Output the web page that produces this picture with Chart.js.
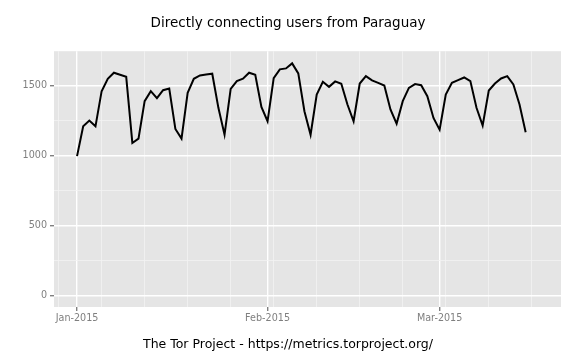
<!DOCTYPE html>
<html>
<head>
<meta charset="utf-8">
<script src="https://cdn.jsdelivr.net/npm/chart.js@4.4.1/dist/chart.umd.min.js"></script>
<style>
  html, body { margin: 0; padding: 0; background: #ffffff; }
  canvas { display: block; }
</style>
</head>
<body>
<canvas id="usersChart" width="576" height="360"></canvas>
<script>
// --- DATA ---
const startDate = '2015-01-01';
// daily directly connecting users, 2015-01-01 .. 2015-03-15
const users = [
    995, 1208, 1249, 1208, 1459, 1548, 1591, 1577, 1562, 1089, 1120, 1388, 1459, 1409, 1466, 1478,
    1189, 1120, 1447, 1548, 1572, 1579, 1584, 1340, 1148, 1476, 1531, 1548, 1591, 1577, 1346, 1244,
    1553, 1615, 1622, 1658, 1586, 1316, 1148, 1435, 1526, 1490, 1529, 1512, 1364, 1244, 1514,
    1567, 1536, 1519, 1500, 1328, 1227, 1388, 1483, 1510, 1502, 1423, 1268, 1184,
    1435, 1519, 1538, 1557, 1531, 1340, 1213, 1464, 1514, 1550, 1567, 1507, 1364, 1165
];
const monthTicks = ['2015-01-01', '2015-02-01', '2015-03-01'];
const monthLabels = ['Jan-2015', 'Feb-2015', 'Mar-2015'];
const weekTicks = ['2014-12-29', '2015-01-05', '2015-01-12', '2015-01-19', '2015-01-26', '2015-02-02',
    '2015-02-09', '2015-02-16', '2015-02-23', '2015-03-02', '2015-03-09', '2015-03-16'];
const yMajorTicks = [0, 500, 1000, 1500];
const yMinorTicks = [250, 750, 1250];

const titleText = 'Directly connecting users from Paraguay';
const captionText = 'The Tor Project - https://metrics.torproject.org/';

// day offset from the first date
function dayIndex(d) {
    return (Date.parse(d + 'T00:00:00Z') - Date.parse(startDate + 'T00:00:00Z')) / 86400000;
}

const points = users.map((v, i) => ({ x: i, y: v }));
const xMajor = monthTicks.map(dayIndex);
const xMinor = weekTicks.map(dayIndex);

// grey panel like ggplot
const panelBackground = {
    id: 'panelBackground',
    beforeDraw(chart) {
        const { ctx, chartArea: a } = chart;
        ctx.save();
        ctx.fillStyle = '#e5e5e5';
        ctx.fillRect(a.left, a.top, a.right - a.left, a.bottom - a.top);
        ctx.restore();
    }
};

const isMajorX = v => xMajor.includes(v);
const isMajorY = v => yMajorTicks.includes(v);

new Chart(document.getElementById('usersChart').getContext('2d'), {
    type: 'line',
    data: {
        datasets: [{
            label: 'users',
            data: points,
            borderColor: '#000000',
            borderWidth: 2,
            pointRadius: 0,
            tension: 0,
            fill: false
        }]
    },
    options: {
        responsive: false,
        animation: false,
        devicePixelRatio: 1,
        layout: { padding: 0 },
        plugins: {
            legend: { display: false },
            tooltip: { enabled: false },
            title: {
                display: true,
                text: titleText,
                color: '#000000',
                font: { family: 'DejaVu Sans', size: 13.5, weight: 'normal' },
                padding: { top: 15, bottom: 20 }
            },
            subtitle: {
                display: true,
                position: 'bottom',
                text: captionText,
                color: '#000000',
                font: { family: 'DejaVu Sans', size: 12.5, weight: 'normal' },
                padding: { top: 6, bottom: 8 }
            }
        },
        scales: {
            x: {
                type: 'linear',
                min: -3.75,
                max: 78.75,
                afterBuildTicks: scale => {
                    scale.ticks = [...xMinor, ...xMajor].map(v => ({ value: v }));
                },
                afterFit: scale => { scale.height = 24; },
                ticks: {
                    autoSkip: false,
                    maxRotation: 0,
                    padding: 2,
                    color: '#7f7f7f',
                    font: { family: 'DejaVu Sans', size: 9.6 },
                    callback: v => {
                        const i = xMajor.indexOf(v);
                        return i >= 0 ? monthLabels[i] : '';
                    }
                },
                grid: {
                    color: ctx => isMajorX(ctx.tick.value) ? '#ffffff' : '#f2f2f2',
                    lineWidth: ctx => isMajorX(ctx.tick.value) ? 1.4 : 0.8,
                    tickColor: ctx => isMajorX(ctx.tick.value) ? '#7f7f7f' : 'rgba(0,0,0,0)',
                    tickLength: 4
                },
                border: { display: false }
            },
            y: {
                min: -84,
                max: 1745,
                afterBuildTicks: scale => {
                    scale.ticks = [...yMinorTicks, ...yMajorTicks].map(v => ({ value: v }));
                },
                afterFit: scale => { scale.width = 54; },
                ticks: {
                    autoSkip: false,
                    padding: 3,
                    color: '#7f7f7f',
                    font: { family: 'DejaVu Sans', size: 9.6 },
                    callback: v => isMajorY(v) ? String(v) : ''
                },
                grid: {
                    color: ctx => isMajorY(ctx.tick.value) ? '#ffffff' : '#f2f2f2',
                    lineWidth: ctx => isMajorY(ctx.tick.value) ? 1.4 : 0.8,
                    tickColor: ctx => isMajorY(ctx.tick.value) ? '#7f7f7f' : 'rgba(0,0,0,0)',
                    tickLength: 4
                },
                border: { display: false }
            },
            // empty right margin so the titles stay centred on the page
            rightMargin: {
                position: 'right',
                afterFit: scale => { scale.width = 15; },
                ticks: { display: false },
                grid: { display: false, drawTicks: false },
                border: { display: false }
            }
        }
    },
    plugins: [panelBackground]
});
</script>
</body>
</html>
